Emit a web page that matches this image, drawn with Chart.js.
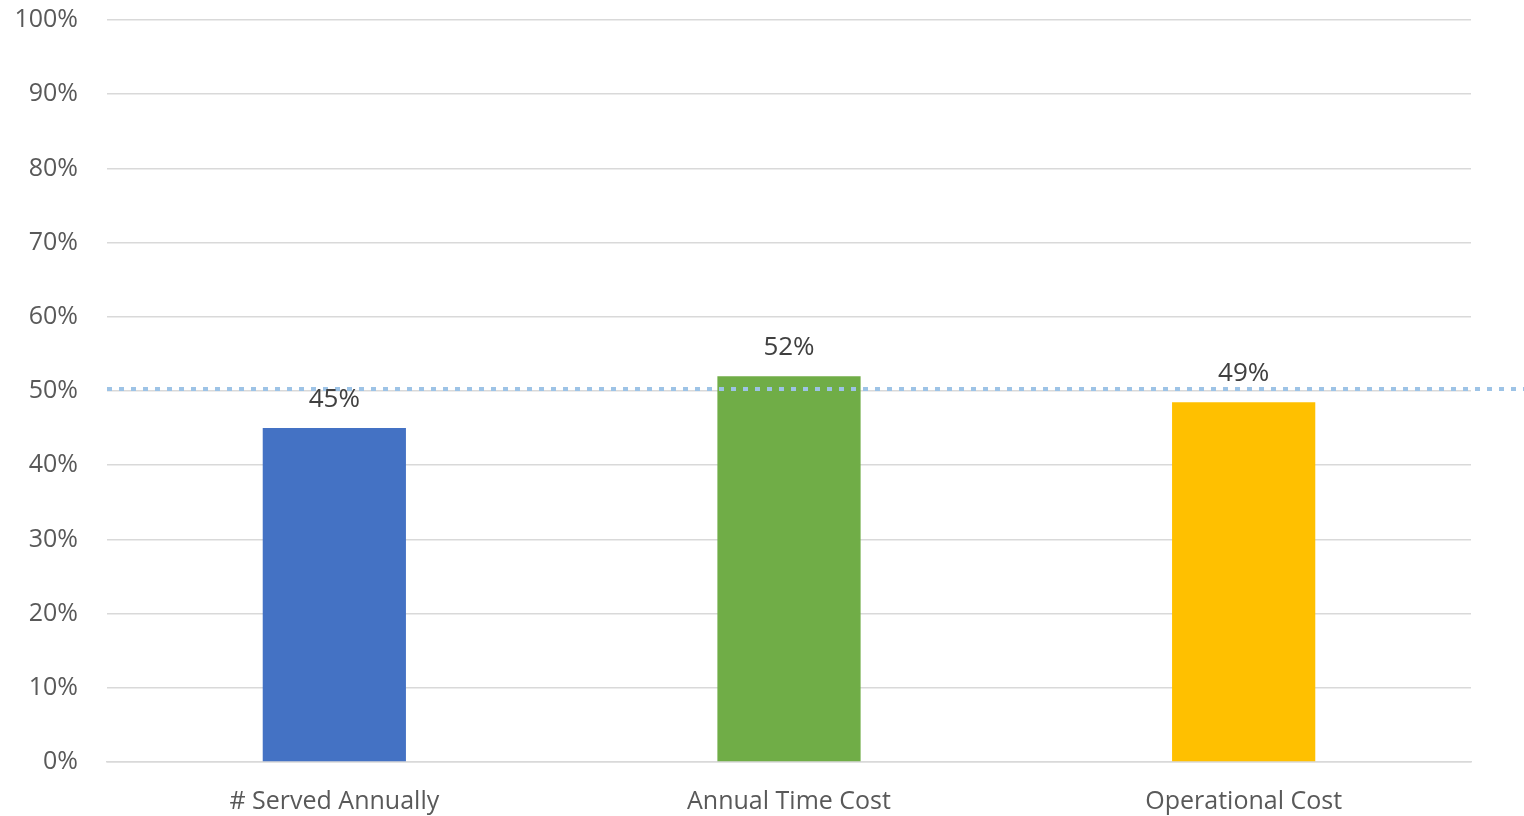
<!DOCTYPE html>
<html>
<head>
<meta charset="utf-8">
<script src="https://cdn.jsdelivr.net/npm/chart.js@4/dist/chart.umd.min.js"></script>
<style>
  html, body { margin: 0; padding: 0; background: #ffffff; }
  #wrap { width: 1524px; height: 816px; }
</style>
</head>
<body>
<div id="wrap"><canvas id="chart" width="1524" height="816"></canvas></div>
<script>
// Share of each measure, in percent
const categories = ['# Served Annually', 'Annual Time Cost', 'Operational Cost'];
const shares = [45, 52, 48.5];
const barColors = ['#4472C4', '#70AD47', '#FFC000'];
const targetLevel = 50;
const yTicks = [0, 10, 20, 30, 40, 50, 60, 70, 80, 90, 100];

const FONT = "'Open Sans', 'Liberation Sans', sans-serif";

// Value labels drawn above each bar
const valueLabels = {
  id: 'valueLabels',
  afterDatasetsDraw(chart) {
    const ctx = chart.ctx;
    const meta = chart.getDatasetMeta(0);
    ctx.save();
    ctx.font = `26px ${FONT}`;
    ctx.fillStyle = '#404040';
    ctx.textAlign = 'center';
    ctx.textBaseline = 'middle';
    meta.data.forEach((bar, i) => {
      const v = chart.data.datasets[0].data[i];
      ctx.fillText(Math.round(v) + '%', bar.x, bar.y - 29);
    });
    ctx.restore();
  }
};

// Dotted reference line at the target level, running to the right edge
const targetLine = {
  id: 'targetLine',
  afterDatasetsDraw(chart) {
    const ctx = chart.ctx;
    const y = Math.round(chart.scales.y.getPixelForValue(targetLevel)) - 2;
    ctx.save();
    ctx.strokeStyle = '#9DC3E6';
    ctx.lineWidth = 4;
    ctx.setLineDash([5, 7]);
    ctx.beginPath();
    ctx.moveTo(chart.chartArea.left, y);
    ctx.lineTo(chart.width, y);
    ctx.stroke();
    ctx.restore();
  }
};

new Chart(document.getElementById('chart'), {
  type: 'bar',
  data: {
    labels: categories,
    datasets: [{
      data: shares,
      backgroundColor: barColors,
      borderWidth: 0,
      categoryPercentage: 1,
      barPercentage: 0.315
    }]
  },
  options: {
    responsive: false,
    animation: false,
    layout: { padding: { top: 20, right: 53, left: 0, bottom: 0 } },
    plugins: { legend: { display: false }, tooltip: { enabled: false } },
    scales: {
      x: {
        grid: { display: false, drawTicks: false },
        border: { display: true, color: '#D9D9D9', width: 1.5 },
        ticks: { color: '#595959', font: { family: FONT, size: 25 }, padding: 25 },
        afterFit(scale) { scale.height = 54; scale.paddingLeft = 0; scale.paddingRight = 0; }
      },
      y: {
        min: 0,
        max: 100,
        afterBuildTicks(scale) { scale.ticks = yTicks.map(v => ({ value: v })); },
        grid: { color: '#D9D9D9', lineWidth: 1.5, drawTicks: false },
        border: { display: false },
        ticks: {
          color: '#595959',
          font: { family: FONT, size: 25 },
          padding: 29,
          callback: v => v + '%'
        },
        afterFit(scale) { scale.width = 107; scale.paddingTop = 0; scale.paddingBottom = 0; }
      }
    }
  },
  plugins: [targetLine, valueLabels]
});
</script>
</body>
</html>
